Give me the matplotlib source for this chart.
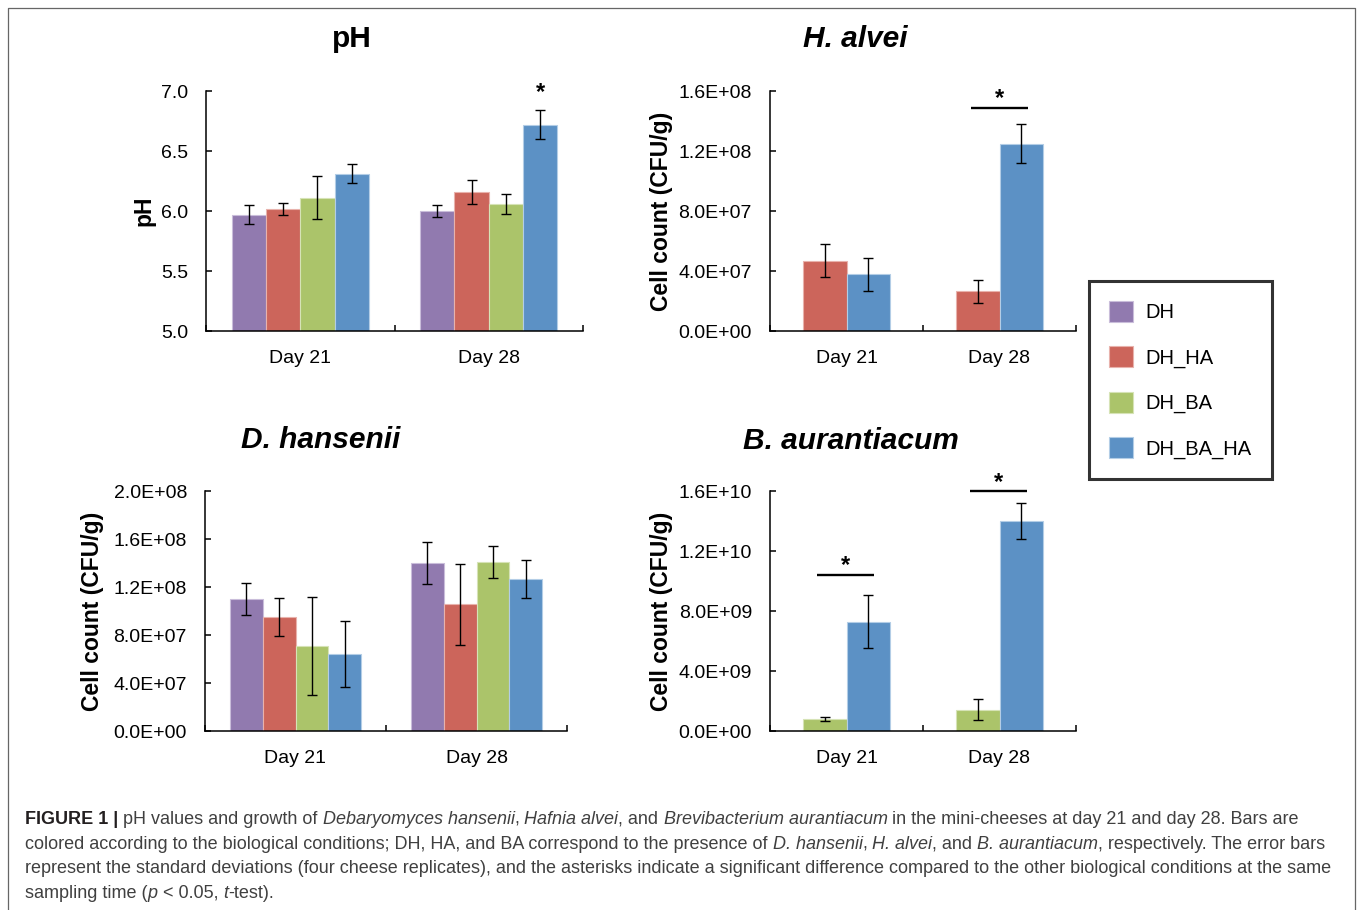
import matplotlib
matplotlib.use("Agg")
import matplotlib.pyplot as plt
from matplotlib.lines import Line2D
from matplotlib.ticker import FuncFormatter
import numpy as np

plt.rcParams["font.family"] = ["Liberation Sans", "DejaVu Sans"]

W, H = 1357, 910

groups = ["Day 21", "Day 28"]

# pH panel (DH, DH_HA, DH_BA, DH_BA_HA), one row per condition, cols = day 21, day 28
ph_conds = ["DH", "DH_HA", "DH_BA", "DH_BA_HA"]
ph_mean = [[5.97, 6.00], [6.02, 6.16], [6.11, 6.06], [6.31, 6.72]]
ph_sd = [[0.08, 0.05], [0.05, 0.10], [0.18, 0.085], [0.08, 0.12]]

# H. alvei counts
ha_conds = ["DH_HA", "DH_BA_HA"]
ha_mean = [[4.7e7, 2.65e7], [3.8e7, 1.25e8]]
ha_sd = [[1.13e7, 0.76e7], [1.1e7, 1.32e7]]

# D. hansenii counts
dh_conds = ["DH", "DH_HA", "DH_BA", "DH_BA_HA"]
dh_mean = [[1.10e8, 1.40e8], [0.95e8, 1.055e8], [0.71e8, 1.41e8], [0.64e8, 1.265e8]]
dh_sd = [[1.3e7, 1.72e7], [1.59e7, 3.39e7], [4.09e7, 1.32e7], [2.74e7, 1.59e7]]

# B. aurantiacum counts
ba_conds = ["DH_BA", "DH_BA_HA"]
ba_mean = [[8.0e8, 1.43e9], [7.3e9, 1.40e10]]
ba_sd = [[1.3e8, 7.2e8], [1.75e9, 1.19e9]]

# significance marks: (group index, level)
ph_star = [(1, 6.93)]
ha_sig = [(1, 1.49e8)]
ba_sig = [(0, 1.043e10), (1, 1.602e10)]

COLORS = {"DH": "#917AAF", "DH_HA": "#CC655B", "DH_BA": "#ABC46A", "DH_BA_HA": "#5C91C5"}
EDGES = {"DH": "#C9BDDA", "DH_HA": "#E8B2AC", "DH_BA": "#D6E3B6", "DH_BA_HA": "#B3CDE6"}


def fig_rect(left, top, right, bottom):
    return [left / W, 1 - bottom / H, (right - left) / W, (bottom - top) / H]


def bar_panel(ax, conds, means, sds, ylim, step, fmt, width, tick_size):
    x = np.arange(len(groups)) + 0.5
    n = len(conds)
    for i, c in enumerate(conds):
        off = (i - (n - 1) / 2) * width
        ax.bar(x + off, means[i], width, yerr=sds[i], color=COLORS[c],
               edgecolor=EDGES[c], linewidth=0.8, label=c, capsize=3.6,
               error_kw=dict(elinewidth=1.0, ecolor="black", capthick=1.0))
    ax.set_xlim(0, 2)
    ax.set_ylim(*ylim)
    ax.set_yticks(np.arange(ylim[0], ylim[1] + step / 2, step))
    ax.yaxis.set_major_formatter(FuncFormatter(lambda v, p: fmt % v))
    ax.set_xticks(x)
    ax.set_xticklabels(groups)
    ax.set_xticks([0, 1, 2], minor=True)
    ax.tick_params(axis="x", which="major", length=0, pad=13.5, labelsize=14)
    ax.tick_params(axis="x", which="minor", direction="in", length=4.5, width=1.1)
    ax.tick_params(axis="y", direction="in", length=4.5, width=1.1, pad=13,
                   labelsize=tick_size)
    for s in ("top", "right"):
        ax.spines[s].set_visible(False)
    for s in ("left", "bottom"):
        ax.spines[s].set_linewidth(1.1)
    return x


def sig_line(ax, xc, level, half=0.185):
    ax.plot([xc - half, xc + half], [level, level], color="black", lw=1.7,
            solid_capstyle="butt", clip_on=False)
    ax.annotate("*", (xc, level), xytext=(0, 1.5), textcoords="offset points",
                ha="center", va="baseline", fontsize=17, fontweight="bold",
                annotation_clip=False)


fig = plt.figure(figsize=(W / 100, H / 100), dpi=100)

# pH
ax1 = fig.add_axes(fig_rect(206, 91, 583, 331))
x = bar_panel(ax1, ph_conds, ph_mean, ph_sd, (5.0, 7.0), 0.5, "%.1f", 0.182, 14)
ax1.set_ylabel("pH", fontsize=16.5, fontweight="bold")
ax1.yaxis.set_label_coords(-0.135, 0.5)
for g, lvl in ph_star:
    ax1.annotate("*", (x[g] + 1.5 * 0.182, lvl), ha="center", va="baseline",
                 fontsize=17, fontweight="bold", annotation_clip=False)

# H. alvei
ax2 = fig.add_axes(fig_rect(770, 91, 1076, 331))
x = bar_panel(ax2, ha_conds, ha_mean, ha_sd, (0, 1.6e8), 4e7, "%.1E", 0.284, 14)
ax2.set_ylabel("Cell count (CFU/g)", fontsize=16.5, fontweight="bold")
ax2.yaxis.set_label_coords(-0.317, 0.5)
for g, lvl in ha_sig:
    sig_line(ax2, x[g], lvl)

# D. hansenii
ax3 = fig.add_axes(fig_rect(205, 491, 567, 731))
x = bar_panel(ax3, dh_conds, dh_mean, dh_sd, (0, 2.0e8), 4e7, "%.1E", 0.182, 14)
ax3.set_ylabel("Cell count (CFU/g)", fontsize=16.5, fontweight="bold")
ax3.yaxis.set_label_coords(-0.28, 0.5)

# B. aurantiacum
ax4 = fig.add_axes(fig_rect(770, 491, 1076, 731))
x = bar_panel(ax4, ba_conds, ba_mean, ba_sd, (0, 1.6e10), 4e9, "%.1E", 0.284, 14)
ax4.set_ylabel("Cell count (CFU/g)", fontsize=16.5, fontweight="bold")
ax4.yaxis.set_label_coords(-0.317, 0.5)
for g, lvl in ba_sig:
    sig_line(ax4, x[g] - 0.005, lvl)

# panel titles
titles = [("pH", 352, 39, "normal"), ("H. alvei", 855, 39, "italic"),
          ("D. hansenii", 321, 440, "italic"), ("B. aurantiacum", 851, 441, "italic")]
for txt, tx, ty, st in titles:
    fig.text(tx / W, 1 - ty / H, txt, ha="center", va="center", fontsize=21.5,
             fontweight="bold", fontstyle=st)

# legend
handles = [plt.Rectangle((0, 0), 1, 1, facecolor=COLORS[c], edgecolor=EDGES[c], linewidth=0.8)
           for c in ph_conds]
leg = fig.legend(handles, ph_conds, loc="center", bbox_to_anchor=(1180.5 / W, 1 - 380 / H),
                 fontsize=14.5, frameon=True, fancybox=False, handlelength=1.2,
                 handleheight=1.2, handletextpad=0.6, labelspacing=1.2, borderpad=1.0,
                 borderaxespad=0)
leg.get_frame().set_edgecolor("black")
leg.get_frame().set_linewidth(2.2)

# outer frame (open at the bottom)
fx0, fx1, fy = 8 / W, 1355 / W, 1 - 8 / H
fig.add_artist(Line2D([fx0, fx0, fx1, fx1], [0, fy, fy, 0], transform=fig.transFigure,
                      color="#666666", lw=0.9))

# caption
cap_lines = [
    [("FIGURE 1 |", "b"), (" pH values and growth of ", "n"), ("Debaryomyces hansenii", "i"),
     (", ", "n"), ("Hafnia alvei", "i"), (", and ", "n"), ("Brevibacterium aurantiacum", "i"),
     (" in the mini-cheeses at day 21 and day 28. Bars are", "n")],
    [("colored according to the biological conditions; DH, HA, and BA correspond to the presence of ", "n"),
     ("D. hansenii", "i"), (", ", "n"), ("H. alvei", "i"), (", and ", "n"), ("B. aurantiacum", "i"),
     (", respectively. The error bars", "n")],
    [("represent the standard deviations (four cheese replicates), and the asterisks indicate a "
      "significant difference compared to the other biological conditions at the same", "n")],
    [("sampling time (", "n"), ("p", "i"), (" < 0.05, ", "n"), ("t", "i"), ("-test).", "n")],
]
cap_base = [824, 848.7, 873.3, 898]
cap_size = 13.0

renderer = fig.canvas.get_renderer()


def text_width(s, **kw):
    t = fig.text(0, 0, s, fontsize=cap_size, **kw)
    w = t.get_window_extent(renderer=renderer).width
    t.remove()
    return w


for runs, yb in zip(cap_lines, cap_base):
    xpos = 25.0
    for s, st in runs:
        kw = dict(fontweight="bold" if st == "b" else "normal",
                  fontstyle="italic" if st == "i" else "normal")
        color = "#231f20" if st == "b" else "#404040"
        sp = text_width("a a", **kw) - text_width("aa", **kw)
        core = s.strip(" ")
        lead = len(s) - len(s.lstrip(" "))
        trail = len(s) - len(s.rstrip(" "))
        xpos += lead * sp
        t = fig.text(xpos / W, 1 - yb / H, core, fontsize=cap_size, color=color,
                     ha="left", va="baseline", **kw)
        xpos += t.get_window_extent(renderer=renderer).width + trail * sp

fig.savefig("out.png", dpi=100, facecolor="white")
